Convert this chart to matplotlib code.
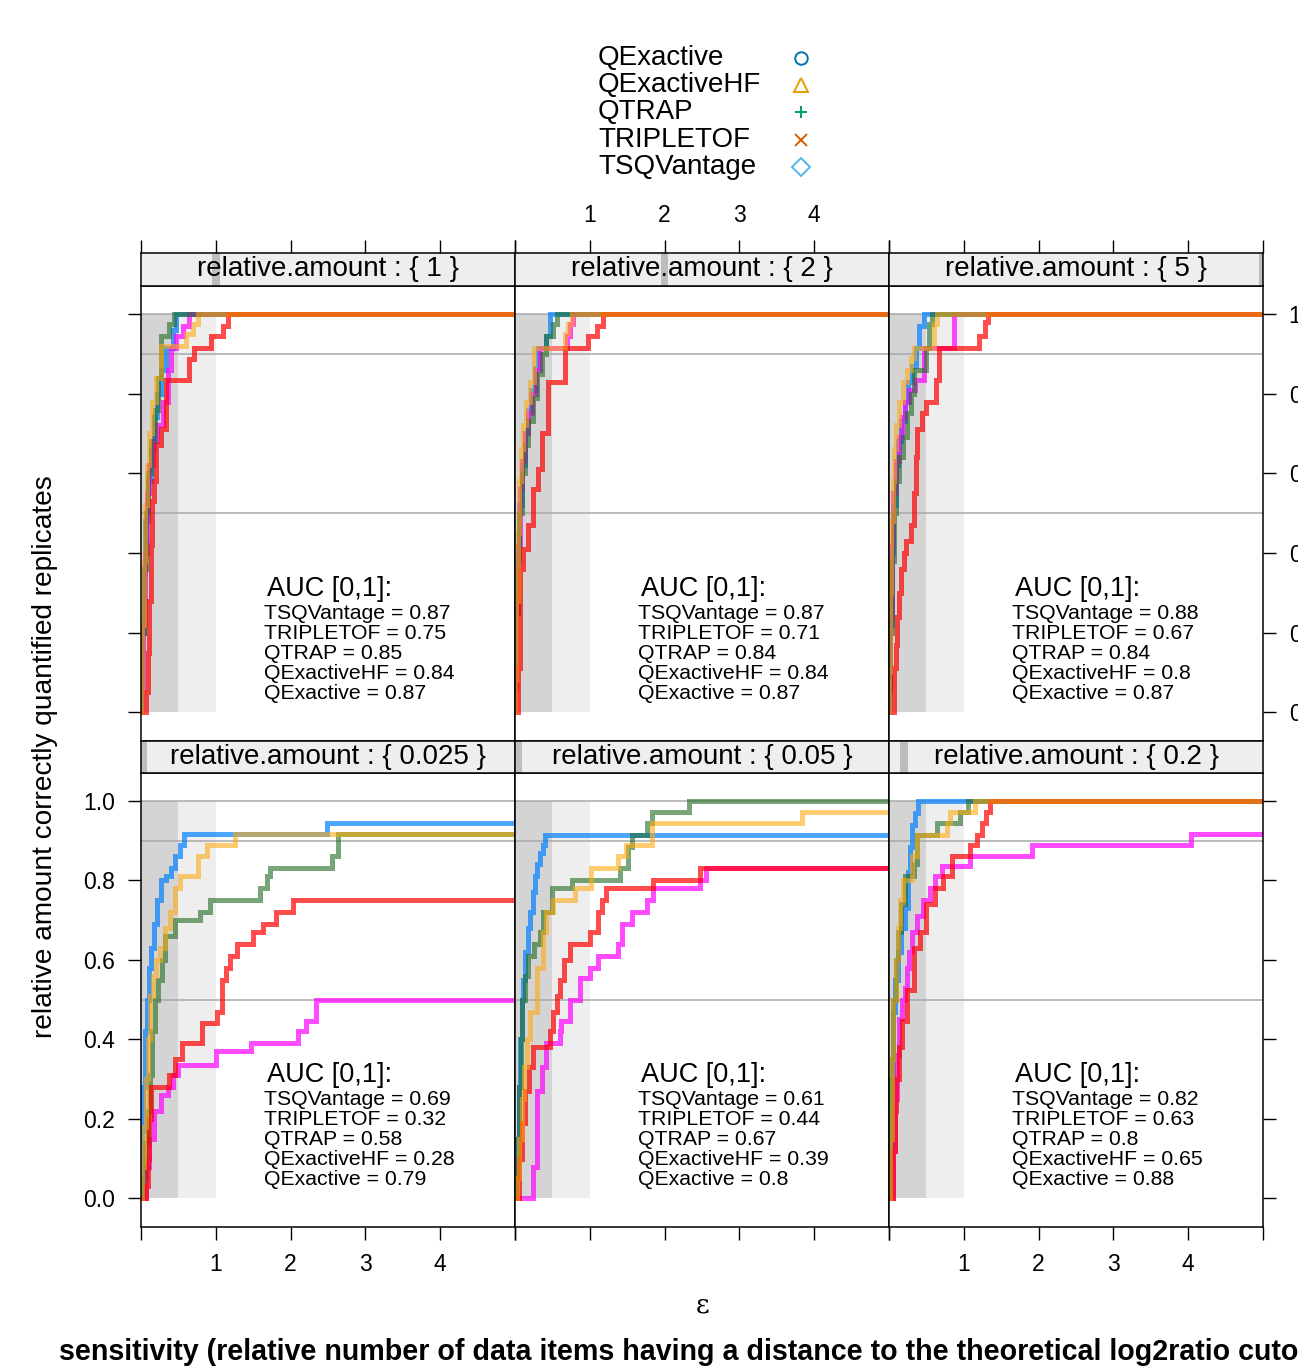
import matplotlib
matplotlib.use("Agg")
import matplotlib.pyplot as plt
from matplotlib.patches import Rectangle

plt.rcParams["font.family"] = ["Liberation Sans", "DejaVu Sans"]

# instruments in factor order (also the drawing order)
instruments = ["QExactive", "QExactiveHF", "QTRAP", "TRIPLETOF", "TSQVantage"]
legend_colors = ["#0072B2", "#E69F00", "#009E73", "#D55E00", "#56B4E9"]
legend_markers = ["o", "^", "+", "x", "D"]
line_colors = {
    "QExactive": (0.0, 0.5, 1.0, 0.70),
    "QExactiveHF": (1.0, 0.0, 1.0, 0.70),
    "QTRAP": (0.12, 0.42, 0.12, 0.60),
    "TRIPLETOF": (1.0, 0.0, 0.0, 0.70),
    "TSQVantage": (1.0, 0.66, 0.05, 0.58),
}

amounts = [1, 2, 5, 0.025, 0.05, 0.2]

# step curves (x where the curve jumps, y after the jump), one dict per panel
steps_1 = {
    "QExactive": ([0, 0.02, 0.04, 0.06, 0.09, 0.13, 0.18, 0.22, 0.27, 0.33, 0.43, 0.47],
                  [0.05, 0.2, 0.35, 0.48, 0.58, 0.66, 0.74, 0.80, 0.86, 0.915, 0.96, 1.0]),
    "QExactiveHF": ([0, 0.03, 0.05, 0.08, 0.11, 0.16, 0.22, 0.30, 0.36, 0.40, 0.47, 0.56, 0.64],
                    [0.05, 0.22, 0.40, 0.55, 0.62, 0.68, 0.72, 0.78, 0.86, 0.915, 0.945, 0.97, 1.0]),
    "QTRAP": ([0, 0.02, 0.04, 0.07, 0.10, 0.14, 0.19, 0.23, 0.27, 0.37, 0.44],
              [0.05, 0.2, 0.36, 0.5, 0.6, 0.68, 0.76, 0.84, 0.945, 0.975, 1.0]),
    "TRIPLETOF": ([0.05, 0.07, 0.09, 0.11, 0.13, 0.15, 0.18, 0.20, 0.27, 0.33, 0.64, 0.71, 0.93, 1.10, 1.16],
                  [0.0, 0.05, 0.15, 0.28, 0.42, 0.53, 0.58, 0.67, 0.71, 0.835, 0.886, 0.915, 0.945, 0.97, 1.0]),
    "TSQVantage": ([0, 0.02, 0.04, 0.06, 0.08, 0.11, 0.15, 0.20, 0.27, 0.60, 0.69, 0.76],
                   [0.05, 0.22, 0.38, 0.52, 0.62, 0.70, 0.78, 0.84, 0.92, 0.95, 0.975, 1.0]),
}
steps_2 = {
    "QExactive": ([0, 0.02, 0.04, 0.06, 0.09, 0.13, 0.18, 0.22, 0.27, 0.31, 0.42, 0.47],
                  [0.08, 0.25, 0.40, 0.52, 0.62, 0.70, 0.76, 0.81, 0.865, 0.915, 0.945, 1.0]),
    "QExactiveHF": ([0, 0.02, 0.04, 0.07, 0.10, 0.14, 0.18, 0.23, 0.28, 0.33, 0.69, 0.73, 0.77],
                    [0.06, 0.26, 0.42, 0.56, 0.63, 0.70, 0.75, 0.80, 0.86, 0.915, 0.945, 0.975, 1.0]),
    "QTRAP": ([0, 0.02, 0.04, 0.06, 0.09, 0.13, 0.18, 0.24, 0.30, 0.36, 0.42, 0.51, 0.56],
              [0.06, 0.25, 0.38, 0.50, 0.60, 0.67, 0.73, 0.79, 0.85, 0.90, 0.945, 0.975, 1.0]),
    "TRIPLETOF": ([0.02, 0.04, 0.07, 0.11, 0.17, 0.24, 0.31, 0.36, 0.44, 0.67, 0.97, 1.09, 1.17],
                  [0.0, 0.11, 0.36, 0.41, 0.47, 0.56, 0.61, 0.70, 0.83, 0.915, 0.945, 0.97, 1.0]),
    "TSQVantage": ([0, 0.02, 0.04, 0.06, 0.08, 0.11, 0.15, 0.20, 0.25, 0.67, 0.71, 0.76],
                   [0.08, 0.28, 0.45, 0.58, 0.66, 0.72, 0.78, 0.83, 0.915, 0.95, 0.975, 1.0]),
}
steps_5 = {
    "QExactive": ([0, 0.02, 0.04, 0.06, 0.09, 0.12, 0.16, 0.21, 0.26, 0.31, 0.36, 0.40, 0.47],
                  [0.06, 0.22, 0.40, 0.52, 0.62, 0.68, 0.73, 0.78, 0.83, 0.87, 0.915, 0.97, 1.0]),
    "QExactiveHF": ([0, 0.02, 0.04, 0.06, 0.09, 0.13, 0.17, 0.22, 0.27, 0.35, 0.47, 0.87],
                    [0.06, 0.24, 0.42, 0.55, 0.63, 0.69, 0.74, 0.78, 0.81, 0.835, 0.915, 1.0]),
    "QTRAP": ([0, 0.02, 0.04, 0.07, 0.10, 0.14, 0.19, 0.24, 0.29, 0.33, 0.50, 0.53, 0.57],
              [0.05, 0.2, 0.38, 0.50, 0.58, 0.64, 0.69, 0.75, 0.80, 0.86, 0.915, 0.975, 1.0]),
    "TRIPLETOF": ([0.04, 0.07, 0.09, 0.11, 0.14, 0.16, 0.20, 0.23, 0.29, 0.33, 0.36, 0.37, 0.44, 0.50,
                   0.63, 0.67, 1.20, 1.29, 1.33],
                  [0.0, 0.11, 0.17, 0.24, 0.30, 0.36, 0.40, 0.43, 0.47, 0.55, 0.64, 0.71, 0.75, 0.78,
                   0.835, 0.915, 0.945, 0.98, 1.0]),
    "TSQVantage": ([0, 0.02, 0.03, 0.05, 0.07, 0.10, 0.14, 0.19, 0.24, 0.29, 0.33, 0.60, 0.64],
                   [0.1, 0.3, 0.48, 0.58, 0.66, 0.72, 0.78, 0.83, 0.86, 0.89, 0.915, 0.975, 1.0]),
}
steps_0025 = {
    "QExactive": ([0, 0.01, 0.02, 0.03, 0.05, 0.08, 0.11, 0.14, 0.18, 0.22, 0.27, 0.33, 0.40, 0.45,
                   0.52, 0.57, 2.49],
                  [0.0, 0.08, 0.17, 0.28, 0.42, 0.50, 0.58, 0.63, 0.69, 0.75, 0.80, 0.81, 0.83, 0.86,
                   0.89, 0.917, 0.944]),
    "QExactiveHF": ([0.04, 0.07, 0.11, 0.17, 0.27, 0.36, 0.43, 0.49, 1.0, 1.47, 2.1, 2.2, 2.34],
                    [0.0, 0.08, 0.15, 0.22, 0.26, 0.28, 0.31, 0.335, 0.37, 0.39, 0.42, 0.445, 0.5]),
    "QTRAP": ([0, 0.03, 0.06, 0.09, 0.12, 0.15, 0.19, 0.23, 0.28, 0.32, 0.45, 0.79, 0.92, 1.59, 1.69,
               1.73, 2.56, 2.63],
              [0, 0.05, 0.14, 0.22, 0.31, 0.42, 0.50, 0.55, 0.60, 0.66, 0.70, 0.72, 0.75, 0.78, 0.81,
               0.83, 0.86, 0.917]),
    "TRIPLETOF": ([0.07, 0.09, 0.11, 0.13, 0.37, 0.45, 0.55, 0.81, 1.02, 1.08, 1.13, 1.19, 1.28, 1.50,
                   1.63, 1.81, 2.03],
                  [0.03, 0.10, 0.20, 0.28, 0.31, 0.35, 0.39, 0.44, 0.47, 0.55, 0.58, 0.61, 0.64, 0.67,
                   0.69, 0.72, 0.75]),
    "TSQVantage": ([0, 0.02, 0.04, 0.07, 0.10, 0.12, 0.16, 0.20, 0.25, 0.32, 0.39, 0.45, 0.52, 0.76,
                    0.88, 1.25],
                   [0.0, 0.08, 0.18, 0.30, 0.40, 0.51, 0.56, 0.60, 0.63, 0.68, 0.72, 0.78, 0.81, 0.86,
                    0.89, 0.917]),
}
steps_005 = {
    "QExactive": ([0.01, 0.03, 0.05, 0.07, 0.09, 0.11, 0.14, 0.17, 0.2, 0.24, 0.27, 0.30, 0.33, 0.37, 0.40],
                  [0.05, 0.15, 0.28, 0.40, 0.50, 0.55, 0.62, 0.68, 0.72, 0.77, 0.81, 0.84, 0.87, 0.89, 0.915]),
    "QExactiveHF": ([0.2, 0.24, 0.29, 0.36, 0.42, 0.60, 0.62, 0.73, 0.87, 1.0, 1.11, 1.38, 1.43, 1.57,
                     1.76, 1.84, 2.47, 2.56],
                    [0.0, 0.08, 0.27, 0.33, 0.39, 0.42, 0.445, 0.5, 0.555, 0.58, 0.61, 0.64, 0.69, 0.72,
                     0.75, 0.78, 0.80, 0.83]),
    "QTRAP": ([0.02, 0.04, 0.06, 0.08, 0.10, 0.13, 0.18, 0.25, 0.33, 0.37, 0.49, 0.76, 1.40, 1.51,
               1.57, 1.76, 1.83, 2.33],
              [0.05, 0.15, 0.28, 0.40, 0.50, 0.56, 0.61, 0.64, 0.67, 0.72, 0.78, 0.80, 0.83, 0.885,
               0.915, 0.945, 0.972, 1.0]),
    "TRIPLETOF": ([0.04, 0.06, 0.09, 0.13, 0.19, 0.24, 0.47, 0.51, 0.56, 0.60, 0.66, 0.73, 1.0, 1.11,
                   1.16, 1.22, 1.84, 2.47],
                  [0.0, 0.10, 0.19, 0.27, 0.33, 0.38, 0.42, 0.47, 0.51, 0.55, 0.60, 0.64, 0.67, 0.72,
                   0.75, 0.78, 0.80, 0.83]),
    "TSQVantage": ([0.03, 0.06, 0.09, 0.12, 0.16, 0.2, 0.29, 0.37, 0.42, 0.51, 0.80, 1.02, 1.38, 1.49,
                    1.83, 3.84],
                   [0.05, 0.15, 0.25, 0.33, 0.40, 0.47, 0.58, 0.67, 0.72, 0.75, 0.78, 0.83, 0.86, 0.89,
                    0.945, 0.972]),
}
steps_02 = {
    "QExactive": ([0, 0.01, 0.03, 0.05, 0.08, 0.12, 0.16, 0.21, 0.25, 0.28, 0.31, 0.35, 0.39],
                  [0.0, 0.1, 0.3, 0.47, 0.55, 0.62, 0.68, 0.73, 0.82, 0.885, 0.94, 0.97, 1.0]),
    "QExactiveHF": ([0.02, 0.05, 0.08, 0.11, 0.14, 0.17, 0.21, 0.24, 0.27, 0.31, 0.38, 0.45, 0.55, 0.61,
                     0.71, 1.08, 1.91, 4.04],
                    [0.0, 0.12, 0.25, 0.36, 0.45, 0.5, 0.53, 0.58, 0.62, 0.67, 0.71, 0.75, 0.78, 0.81,
                     0.835, 0.86, 0.89, 0.917]),
    "QTRAP": ([0, 0.02, 0.04, 0.06, 0.09, 0.12, 0.16, 0.21, 0.33, 0.37, 0.64, 0.95, 1.05],
              [0.0, 0.15, 0.35, 0.5, 0.6, 0.67, 0.74, 0.81, 0.84, 0.915, 0.945, 0.972, 1.0]),
    "TRIPLETOF": ([0.03, 0.06, 0.08, 0.10, 0.13, 0.17, 0.24, 0.33, 0.41, 0.50, 0.61, 0.72, 0.84, 1.08,
                   1.17, 1.24, 1.30, 1.35],
                  [0.0, 0.12, 0.22, 0.30, 0.38, 0.445, 0.525, 0.63, 0.67, 0.74, 0.78, 0.81, 0.86, 0.89,
                   0.915, 0.945, 0.972, 1.0]),
    "TSQVantage": ([0, 0.02, 0.04, 0.06, 0.09, 0.12, 0.15, 0.19, 0.31, 0.37, 0.77, 0.81, 1.15],
                   [0.0, 0.15, 0.35, 0.5, 0.6, 0.68, 0.75, 0.80, 0.86, 0.915, 0.945, 0.972, 1.0]),
}
panel_steps = [steps_1, steps_2, steps_5, steps_0025, steps_005, steps_02]

# AUC [0,1] per panel, listed in the order printed
auc_order = ["TSQVantage", "TRIPLETOF", "QTRAP", "QExactiveHF", "QExactive"]
auc_1 = [0.87, 0.75, 0.85, 0.84, 0.87]
auc_2 = [0.87, 0.71, 0.84, 0.84, 0.87]
auc_5 = [0.88, 0.67, 0.84, 0.8, 0.87]
auc_0025 = [0.69, 0.32, 0.58, 0.28, 0.79]
auc_005 = [0.61, 0.44, 0.67, 0.39, 0.8]
auc_02 = [0.82, 0.63, 0.8, 0.65, 0.88]
panel_auc = [auc_1, auc_2, auc_5, auc_0025, auc_005, auc_02]

W, H = 1298, 1366
fig = plt.figure(figsize=(W / 100, H / 100), dpi=100)

col_left = [141, 515, 889]
panel_w = 374
# (panel top, panel bottom, strip top) in pixels
rows = [(286, 741, 253), (773, 1227, 741)]
XMAX = 5.0
YLIM = (-0.072, 1.07)
yticks = [0.0, 0.2, 0.4, 0.6, 0.8, 1.0]
xticks = [0, 1, 2, 3, 4, 5]
xticklabels = ["", "1", "2", "3", "4", ""]
tick_fs = 16.5
tick_len = 9.5

for i, amount in enumerate(amounts):
    r, c = divmod(i, 3)
    ptop, pbot, stop = rows[r]
    left = col_left[c]
    ax = fig.add_axes([left / W, 1 - pbot / H, panel_w / W, (pbot - ptop) / H])
    sax = fig.add_axes([left / W, 1 - ptop / H, panel_w / W, (ptop - stop) / H])

    ax.set_xlim(0, XMAX)
    ax.set_ylim(*YLIM)
    ax.add_patch(Rectangle((0, 0), 0.5, 1, facecolor="#D4D4D4", lw=0, zorder=0))
    ax.add_patch(Rectangle((0.5, 0), 0.5, 1, facecolor="#EEEEEE", lw=0, zorder=0))
    for h in (0.5, 0.9, 1.0):
        ax.axhline(h, color="#A8A8A8", lw=1.1, zorder=1)

    for name in instruments:
        xs, ys = panel_steps[i][name]
        x = [0] + list(xs) + [XMAX]
        y = [0] + list(ys) + [ys[-1]]
        ax.plot(x, y, drawstyle="steps-post", color=line_colors[name], lw=3.6,
                solid_joinstyle="miter", zorder=2)

    # AUC annotation
    ax.text(1.69, 0.31, "AUC [0,1]:", fontsize=19.5, va="center", ha="left", zorder=3)
    for k, (name, v) in enumerate(zip(auc_order, panel_auc[i])):
        ax.text(1.65, 0.249 - k * 0.0502, f"{name} = {v:g}", fontsize=15.3,
                va="center", ha="left", zorder=3)

    for sp in ax.spines.values():
        sp.set_linewidth(1.1)
    ax.set_xticks(xticks)
    ax.set_yticks(yticks)
    ax.tick_params(direction="out", length=tick_len, width=1.0, labelsize=tick_fs,
                   left=(c == 0), right=(c == 2), bottom=(r == 1), top=False,
                   labelleft=(c == 0 and r == 1), labelright=(c == 2 and r == 0),
                   labelbottom=(r == 1 and c != 1), labeltop=False, pad=9)
    ax.set_xticklabels(xticklabels)
    ax.set_yticklabels([f"{t:.1f}" for t in yticks])

    # strip
    sax.set_xlim(0, XMAX)
    sax.set_ylim(0, 1)
    sax.set_facecolor("#EEEEEE")
    sax.add_patch(Rectangle((amount - 0.05, 0), 0.1, 1, facecolor="#BDBDBD", lw=0))
    sax.text(XMAX / 2, 0.5, f"relative.amount : {{ {amount:g} }}", fontsize=20,
             ha="center", va="center")
    for sp in sax.spines.values():
        sp.set_linewidth(1.1)
    sax.set_yticks([])
    if r == 0:
        sax.set_xticks(xticks)
        sax.set_xticklabels(xticklabels)
        sax.tick_params(direction="out", length=tick_len, width=1.0, labelsize=tick_fs,
                        bottom=False, labelbottom=False, top=True, labeltop=(c == 1), pad=9)
    else:
        sax.set_xticks([])

# legend
for k, name in enumerate(instruments):
    py = 58 + k * 27.2
    fig.text(598 / W, 1 - py / H, name, fontsize=20, ha="left", va="center")
    fig.lines.append(plt.Line2D([801 / W], [1 - py / H], transform=fig.transFigure,
                                marker=legend_markers[k], markersize=9 if k != 1 else 10,
                                markerfacecolor="none", markeredgecolor=legend_colors[k],
                                markeredgewidth=1.4, linestyle="none"))

fig.text(45 / W, 1 - 757 / H, "relative amount correctly quantified replicates",
         rotation=90, fontsize=20.2, ha="center", va="center")
fig.text(703 / W, 1 - 1305 / H, "\u03b5", fontsize=19, ha="center", va="center",
         family=["DejaVu Serif"])
fig.text(59 / W, 1 - 1352 / H,
         "sensitivity (relative number of data items having a distance to the theoretical "
         "log2ratio cutoff < \u03b5)", fontsize=20.6, fontweight="bold", ha="left", va="center")

fig.savefig("out.png", dpi=100)
